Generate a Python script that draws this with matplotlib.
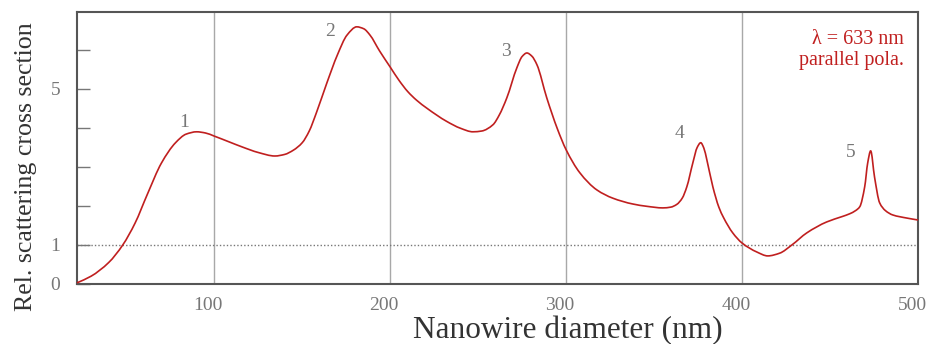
import numpy as np
import matplotlib
matplotlib.use("Agg")
import matplotlib.pyplot as plt
import matplotlib.transforms as mtransforms
from matplotlib.path import Path
from matplotlib.patches import PathPatch

# ---- data ----
diameter = [22, 30, 40, 48, 55, 62, 70, 78, 84, 90, 95, 100, 108, 116, 125, 134.5,
            140, 145, 150, 154, 158, 164, 170, 175.5, 181, 185, 188.5, 194, 200,
            205, 210, 215, 221, 232, 240, 247, 252, 258.4, 262, 266.3, 272, 275, 277.7, 280.5,
            283.4, 289, 295, 300, 307.8, 317.5, 326.5, 337.9, 346, 355, 359.5, 362.9,
            366, 368.6, 372, 374.5, 376.5, 378.3, 380, 383.4, 386.8, 389.5, 394.7, 400,
            408.4, 414.6, 421.4, 428.3, 436.8, 448.1, 457, 461.2, 464.5, 466.9, 469.7,
            471.4, 473.1, 475.3, 478.2, 481.5, 485.6, 493.6, 500]
cross_section = [0.03, 0.2, 0.55, 1.0, 1.56, 2.3, 3.1, 3.62, 3.84, 3.9, 3.87, 3.79, 3.65,
                 3.51, 3.37, 3.28, 3.32, 3.43, 3.62, 3.92, 4.38, 5.15, 5.87, 6.38, 6.59,
                 6.54, 6.38, 5.97, 5.56, 5.22, 4.93, 4.71, 4.5, 4.17, 3.99, 3.9, 3.92, 4.08,
                 4.33, 4.77, 5.54, 5.83, 5.92, 5.84, 5.62, 4.77, 3.98, 3.44, 2.85, 2.41, 2.2,
                 2.05, 1.99, 1.95, 1.97, 2.04, 2.2, 2.49, 3.1, 3.5, 3.62, 3.48, 3.18, 2.49,
                 1.97, 1.7, 1.31, 1.05, 0.82, 0.72, 0.79, 1.0, 1.31, 1.59, 1.73, 1.8, 1.88,
                 1.98, 2.49, 3.1, 3.41, 2.74, 2.08, 1.88, 1.77, 1.69, 1.64]

peak_labels = ["1", "2", "3", "4", "5"]
peak_x = [82.8, 165.8, 265.8, 364.6, 461.8]
peak_y = [4.15, 6.46, 5.95, 3.85, 3.36]

x_ticks = [100, 200, 300, 400, 500]
y_ticks = [0, 1, 2, 3, 4, 5, 6]
y_ticklabels = ["0", "1", "", "", "", "5", ""]

RED = "#c01f1f"
GRAY_TXT = "#777777"
SERIF = ["Liberation Serif", "DejaVu Serif"]

plt.rcParams["font.family"] = SERIF


def smooth_path(xs, ys):
    """Monotone cubic (Fritsch-Carlson) curve through the points as a Bezier path."""
    x = np.asarray(xs, float)
    y = np.asarray(ys, float)
    h = np.diff(x)
    d = np.diff(y) / h
    m = np.zeros_like(x)
    m[0], m[-1] = d[0], d[-1]
    for i in range(1, len(x) - 1):
        if d[i - 1] * d[i] <= 0:
            m[i] = 0.0
        else:
            w1 = 2 * h[i] + h[i - 1]
            w2 = h[i] + 2 * h[i - 1]
            m[i] = (w1 + w2) / (w1 / d[i - 1] + w2 / d[i])
    verts = [(x[0], y[0])]
    codes = [Path.MOVETO]
    for i in range(len(x) - 1):
        verts += [(x[i] + h[i] / 3, y[i] + m[i] * h[i] / 3),
                  (x[i + 1] - h[i] / 3, y[i + 1] - m[i + 1] * h[i] / 3),
                  (x[i + 1], y[i + 1])]
        codes += [Path.CURVE4] * 3
    return Path(verts, codes)


fig = plt.figure(figsize=(9.31, 3.44), dpi=100)
ax = fig.add_axes([77 / 931, 1 - 284 / 344, (918 - 77) / 931, (284 - 12) / 344])

ax.set_xlim(22, 500)
ax.set_ylim(0, 6.97)

# vertical grid lines
for gx in x_ticks[:-1]:
    ax.axvline(gx, color="#a8a8a8", lw=1.0, zorder=1)
ax.axhline(1, color="#777777", lw=1.0, ls=(0, (1, 1.5)), zorder=1)

ax.add_patch(PathPatch(smooth_path(diameter, cross_section), fill=False, ec=RED,
                       lw=1.2, zorder=3, clip_on=False))

for lab, px, py in zip(peak_labels, peak_x, peak_y):
    ax.text(px, py, lab, color=GRAY_TXT, fontsize=14, ha="center", va="center")

ax.text(0.983, 0.935, "λ = 633 nm\nparallel pola.", transform=ax.transAxes, color=RED,
        fontsize=14.5, ha="right", va="top", linespacing=1.2)

# ticks
ax.set_xticks(x_ticks)
ax.set_xticklabels([str(v) for v in x_ticks])
ax.set_yticks(y_ticks)
ax.set_yticklabels(y_ticklabels)
ax.tick_params(axis="x", length=0, pad=9, labelsize=14, labelcolor=GRAY_TXT)
ax.tick_params(axis="y", direction="in", length=9, width=1, color="#777777", pad=12,
               labelsize=14, labelcolor=GRAY_TXT)
offset = mtransforms.ScaledTranslation(-6 / 100, 0, fig.dpi_scale_trans)
for lbl in ax.get_xticklabels():
    lbl.set_transform(lbl.get_transform() + offset)

for sp in ax.spines.values():
    sp.set_color("#555555")
    sp.set_linewidth(1.5)

ax.set_xlabel("Nanowire diameter (nm)", fontsize=22.5, color="#333333")
ax.set_ylabel("Rel. scattering cross section", fontsize=18.6, color="#333333")
ax.xaxis.set_label_coords(0.584, -0.116)
ax.yaxis.set_label_coords(-0.048, 0.432)

fig.savefig("out.png", dpi=100)
